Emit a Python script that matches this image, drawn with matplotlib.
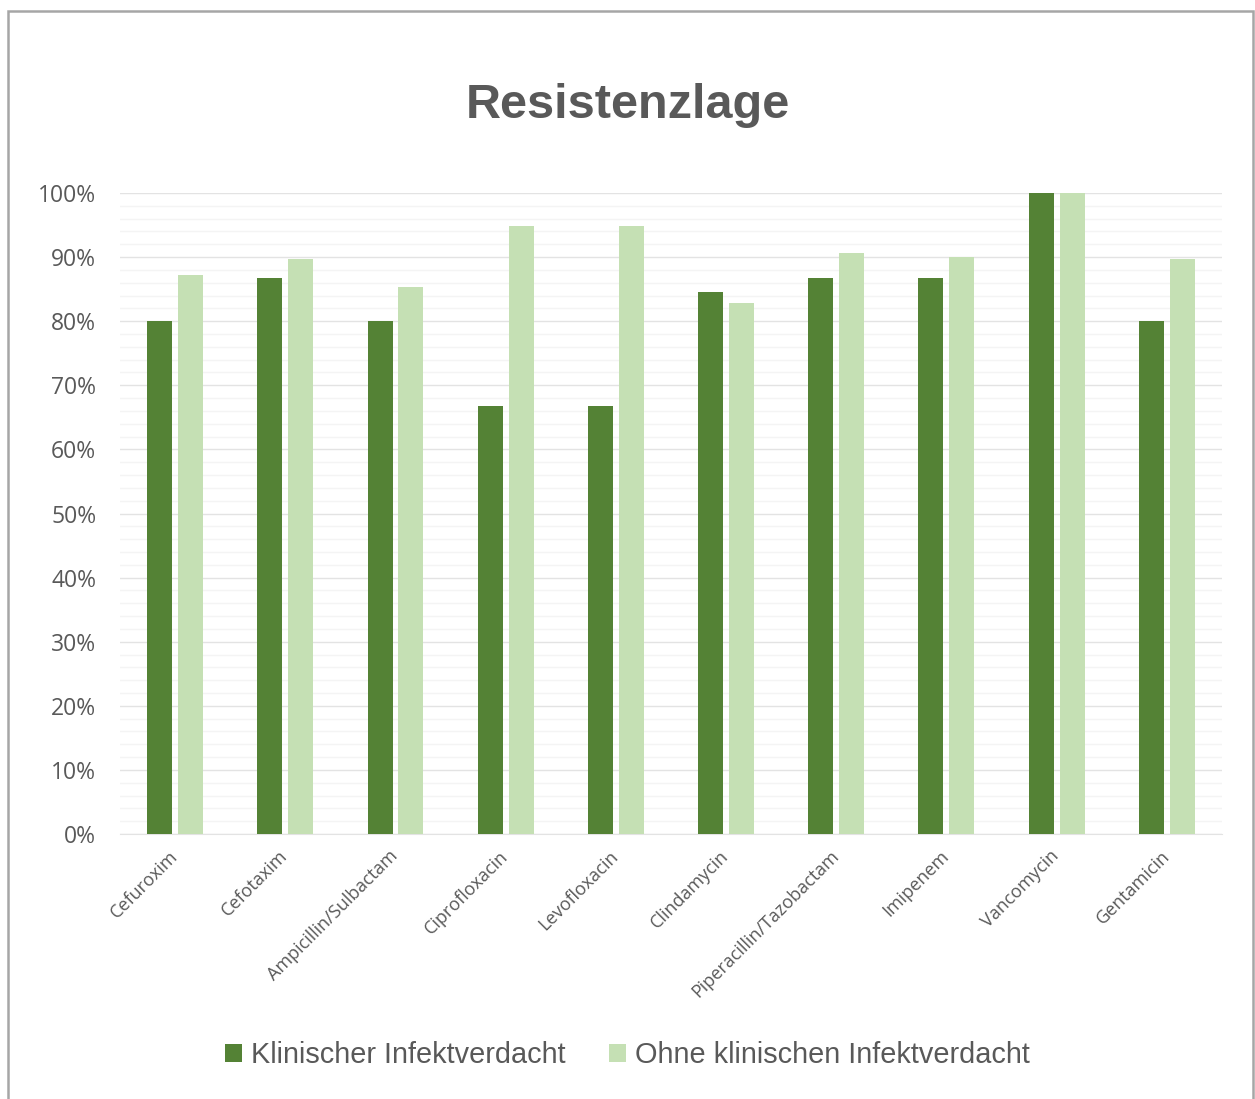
import numpy as np
import matplotlib.pyplot as plt
from matplotlib.patches import Rectangle
from matplotlib.ticker import MultipleLocator, PercentFormatter

antibiotika = ['Cefuroxim', 'Cefotaxim', 'Ampicillin/Sulbactam', 'Ciprofloxacin',
               'Levofloxacin', 'Clindamycin', 'Piperacillin/Tazobactam',
               'Imipenem', 'Vancomycin', 'Gentamicin']
# Anteil sensibler Isolate in %
klinisch = [80.0, 86.7, 80.0, 66.7, 66.7, 84.6, 86.7, 86.7, 100.0, 80.0]
ohne_klinisch = [87.2, 89.7, 85.3, 94.9, 94.9, 82.8, 90.6, 90.0, 100.0, 89.7]

dunkel = '#548235'
hell = '#c5e0b4'
grau = '#595959'

fig = plt.figure(figsize=(12.55, 10.99), dpi=100)
ax = fig.add_axes([0.0956, 0.2411, 0.878, 0.5833])

x = np.arange(len(antibiotika))
breite = 0.227
versatz = 0.14
ax.bar(x - versatz, klinisch, breite, color=dunkel, label='Klinischer Infektverdacht', zorder=3)
ax.bar(x + versatz, ohne_klinisch, breite, color=hell, label='Ohne klinischen Infektverdacht', zorder=3)

ax.set_xlim(-0.5, len(antibiotika) - 0.5)
ax.set_ylim(0, 100)
ax.yaxis.set_major_locator(MultipleLocator(10))
ax.yaxis.set_minor_locator(MultipleLocator(2))
ax.yaxis.set_major_formatter(PercentFormatter(decimals=0))
ax.grid(axis='y', which='major', color='#e3e3e3', linewidth=1.0, zorder=0)
ax.grid(axis='y', which='minor', color='#f4f4f4', linewidth=1.0, zorder=0)
for s in ['top', 'right', 'left']:
    ax.spines[s].set_visible(False)
ax.spines['bottom'].set_color('#e3e3e3')
ax.tick_params(axis='both', which='both', length=0)
ax.tick_params(axis='y', labelsize=16.5, labelcolor=grau, pad=17)

ax.set_xticks(x)
ax.set_xticklabels(antibiotika, rotation=45, ha='right', va='center',
                   rotation_mode='anchor', fontsize=13, color=grau,
                   family='Open Sans')
ax.tick_params(axis='x', pad=14)
for lab in ax.get_yticklabels():
    lab.set_family('Open Sans')

fig.text(0.5, 0.904, 'Resistenzlage', ha='center', va='center', fontsize=35,
         fontweight='bold', color=grau, family='Liberation Sans')

leg = fig.legend(loc='center', bbox_to_anchor=(0.5, 0.040), ncol=2, frameon=False,
                 prop={'family': 'Liberation Sans', 'size': 20.8}, handlelength=0.6,
                 handleheight=0.6, handletextpad=0.3, columnspacing=1.5)
for t in leg.get_texts():
    t.set_color(grau)

# Rahmen um das Diagramm
rahmen = Rectangle((8 / 1255, -0.05), 1245 / 1255, 1.05 - 11 / 1099,
                   transform=fig.transFigure, fill=False, edgecolor='#a6a6a6',
                   linewidth=1.8)
fig.patches.append(rahmen)

fig.savefig('out.png', dpi=100)
